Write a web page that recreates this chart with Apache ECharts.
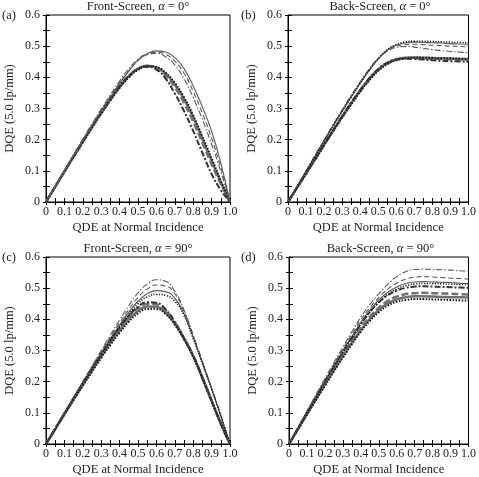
<!DOCTYPE html>
<html>
<head>
<meta charset="utf-8">
<script src="https://cdn.jsdelivr.net/npm/echarts@6/dist/echarts.min.js"></script>
<style>html,body{margin:0;padding:0;background:#fff;}#c{width:479px;height:477px;}</style>
</head>
<body>
<div id="c"></div>
<script>
// ---- data ----
const qde = [0,0.05,0.1,0.15,0.2,0.25,0.3,0.35,0.4,0.45,0.5,0.55,0.6,0.65,0.7,0.75,0.8,0.85,0.9,0.95,1.0];
const xTicks = ['0','0.1','0.2','0.3','0.4','0.5','0.6','0.7','0.8','0.9','1.0'];
const yTicks = ['0','0.1','0.2','0.3','0.4','0.5','0.6'];
const panelTitles = ['Front-Screen, ', 'Back-Screen, ', 'Front-Screen, ', 'Back-Screen, '];
const panelAngles = ['0°', '0°', '90°', '90°'];
const panelTags = ['(a)', '(b)', '(c)', '(d)'];

// (a) Front-Screen, alpha = 0
const a_thinSolid    = [0,.05,.1,.149,.198,.246,.292,.337,.38,.42,.455,.476,.485,.481,.463,.428,.372,.305,.227,.125,0];
const a_thinDash     = [0,.05,.1,.15,.199,.247,.294,.339,.382,.421,.454,.473,.48,.474,.452,.413,.355,.285,.205,.11,0];
const a_thinDashDot  = [0,.051,.102,.152,.202,.251,.298,.344,.388,.427,.458,.474,.477,.466,.44,.395,.335,.265,.185,.098,0];
const a_thickSolid   = [0,.049,.098,.146,.194,.241,.286,.329,.37,.404,.428,.437,.432,.412,.377,.33,.272,.202,.132,.064,0];
const a_thickDash    = [0,.049,.098,.146,.193,.24,.285,.328,.368,.402,.426,.436,.429,.406,.368,.318,.258,.19,.122,.058,0];
const a_thickDashDot = [0,.05,.099,.148,.196,.243,.289,.332,.372,.405,.427,.434,.425,.396,.348,.292,.228,.158,.09,.038,0];
const a_thickDot     = [0,.048,.096,.144,.191,.238,.283,.326,.366,.4,.424,.436,.433,.415,.382,.336,.278,.21,.14,.068,0];

// (b) Back-Screen, alpha = 0
const b_thinDot      = [0,.049,.098,.147,.196,.244,.291,.337,.381,.423,.46,.489,.505,.513,.516,.516,.515,.514,.513,.512,.511];
const b_thinSolid    = [0,.049,.098,.147,.196,.244,.291,.337,.381,.422,.458,.487,.503,.511,.513,.512,.511,.51,.508,.507,.506];
const b_thinDash     = [0,.05,.099,.148,.197,.246,.293,.339,.383,.424,.459,.485,.499,.505,.506,.505,.503,.502,.5,.499,.498];
const b_thinDashDot  = [0,.05,.1,.15,.199,.248,.296,.342,.386,.427,.461,.484,.496,.499,.497,.493,.489,.486,.483,.481,.479];
const b_thickSolid   = [0,.046,.092,.138,.184,.229,.274,.317,.358,.395,.425,.446,.458,.463,.464,.463,.462,.461,.46,.459,.458];
const b_thickDash    = [0,.046,.092,.137,.183,.228,.272,.315,.356,.393,.423,.444,.456,.461,.462,.461,.46,.459,.458,.457,.456];
const b_thickDashDot = [0,.047,.093,.139,.185,.231,.276,.319,.36,.397,.427,.447,.457,.46,.459,.457,.455,.453,.452,.451,.45];
const b_thickDot     = [0,.045,.091,.136,.182,.227,.271,.313,.354,.39,.421,.442,.455,.461,.463,.463,.462,.461,.461,.46,.46];

// (c) Front-Screen, alpha = 90
const c_thinDashDot  = [0,.05,.1,.15,.2,.25,.3,.35,.398,.444,.485,.513,.527,.522,.49,.43,.35,.265,.18,.092,0];
const c_thinDash     = [0,.05,.1,.15,.199,.248,.296,.343,.389,.432,.47,.497,.51,.507,.482,.425,.345,.262,.178,.09,0];
const c_thinSolid    = [0,.05,.099,.148,.197,.245,.292,.338,.382,.423,.458,.482,.492,.489,.468,.418,.342,.26,.177,.09,0];
const c_thinDot      = [0,.049,.098,.147,.195,.242,.288,.333,.376,.416,.45,.472,.48,.477,.458,.412,.338,.258,.176,.09,0];
const c_thickDashDot = [0,.049,.098,.147,.195,.242,.288,.332,.374,.411,.44,.455,.453,.432,.392,.34,.283,.214,.14,.066,0];
const c_thickDash    = [0,.049,.098,.146,.194,.241,.287,.331,.372,.409,.436,.449,.448,.429,.39,.34,.284,.214,.14,.066,0];
const c_thickSolid   = [0,.048,.096,.143,.19,.236,.281,.324,.364,.4,.427,.441,.44,.422,.386,.338,.282,.212,.138,.066,0];
const c_thickDot     = [0,.047,.094,.141,.187,.232,.276,.318,.357,.392,.419,.433,.433,.417,.383,.336,.28,.21,.137,.065,0];

// (d) Back-Screen, alpha = 90
const d_thinDashDot  = [0,.053,.106,.158,.21,.261,.311,.36,.407,.447,.482,.512,.537,.553,.56,.561,.56,.559,.558,.556,.555];
const d_thinDash     = [0,.052,.104,.155,.206,.256,.305,.352,.398,.437,.47,.497,.516,.529,.535,.537,.536,.534,.532,.531,.529];
const d_thinSolid    = [0,.051,.102,.152,.202,.251,.299,.345,.39,.43,.462,.487,.504,.515,.52,.521,.52,.519,.518,.516,.515];
const d_thinDot      = [0,.05,.1,.15,.199,.248,.295,.34,.384,.423,.455,.48,.497,.508,.513,.515,.515,.514,.513,.512,.512];
const d_thickDashDot = [0,.051,.101,.151,.2,.249,.296,.341,.385,.423,.454,.477,.492,.501,.505,.506,.505,.504,.503,.502,.501];
const d_thickDash    = [0,.049,.098,.146,.194,.241,.287,.331,.372,.408,.437,.459,.473,.481,.484,.485,.484,.483,.482,.481,.48];
const d_thickSolid   = [0,.048,.096,.144,.191,.237,.282,.325,.366,.401,.43,.451,.464,.471,.474,.474,.473,.472,.471,.471,.47];
const d_thickDot     = [0,.047,.094,.141,.187,.233,.277,.32,.36,.395,.423,.444,.456,.462,.465,.465,.464,.463,.462,.461,.46];

const panels = [
  [['thickSolid',a_thickSolid],['thickDash',a_thickDash],['thickDot',a_thickDot],['thickDashDot',a_thickDashDot],
   ['thinSolid',a_thinSolid],['thinDash',a_thinDash],['thinDashDot',a_thinDashDot]],
  [['thickSolid',b_thickSolid],['thickDash',b_thickDash],['thickDot',b_thickDot],['thickDashDot',b_thickDashDot],
   ['thinSolid',b_thinSolid],['thinDash',b_thinDash],['thinDashDot',b_thinDashDot],['thinDot',b_thinDot]],
  [['thickSolid',c_thickSolid],['thickDash',c_thickDash],['thickDot',c_thickDot],['thickDashDot',c_thickDashDot],
   ['thinSolid',c_thinSolid],['thinDash',c_thinDash],['thinDashDot',c_thinDashDot],['thinDot',c_thinDot]],
  [['thickSolid',d_thickSolid],['thickDash',d_thickDash],['thickDot',d_thickDot],['thickDashDot',d_thickDashDot],
   ['thinSolid',d_thinSolid],['thinDash',d_thinDash],['thinDashDot',d_thinDashDot],['thinDot',d_thinDot]]
];

// ---- styles ----
const styles = {
  thinSolid:    {color:'#5a5a5a', width:1.1, type:'solid'},
  thinDash:     {color:'#5a5a5a', width:1.1, type:[5,3]},
  thinDashDot:  {color:'#5a5a5a', width:1.1, type:[6,2,1.5,2]},
  thinDot:      {color:'#1a1a1a', width:1.5, type:[1.2,1.5]},
  thickSolid:   {color:'#707070', width:2.5, type:'solid'},
  thickDash:    {color:'#707070', width:2.5, type:[7,3]},
  thickDashDot: {color:'#333', width:2,   type:[6,2,2,2]},
  thickDot:     {color:'#1a1a1a', width:2,   type:[1.5,1.5]}
};
const FONT = 'Liberation Serif, Times New Roman, serif';
const grids = [
  {left:46, top:15, width:184, height:187},
  {left:288, top:15, width:184, height:187},
  {left:46, top:257, width:184, height:187},
  {left:289, top:257, width:183, height:187}
];

const option = {
  animation:false,
  backgroundColor:'#fff',
  grid: grids.map(g => Object.assign({show:true, borderColor:'#000', borderWidth:1, backgroundColor:'transparent'}, g)),
  xAxis: [], yAxis: [], series: [], graphic: []
};

grids.forEach((g, gi) => {
  const xMain = {
    type:'value', gridIndex:gi, min:0, max:1, interval:0.1,
    name:'QDE at Normal Incidence', nameLocation:'middle', nameGap:19,
    nameTextStyle:{fontFamily:FONT, fontSize:12.5, color:'#222'},
    axisLine:{show:true, lineStyle:{color:'#000', width:1}},
    axisTick:{show:true, inside:true, length:4, lineStyle:{color:'#000'}},
    minorTick:{show:true, splitNumber:2, length:4, lineStyle:{color:'#000'}},
    splitLine:{show:false},
    axisLabel:{fontFamily:FONT, fontSize:12, color:'#222', margin:4,
      formatter: v => xTicks[Math.round(v*10)]}
  };
  const xOver = {
    type:'value', gridIndex:gi, min:0, max:1, interval:0.1, position:'bottom',
    axisLine:{show:false},
    axisTick:{show:true, inside:false, length:3, lineStyle:{color:'#000'}},
    minorTick:{show:true, splitNumber:2, length:3, lineStyle:{color:'#000'}},
    splitLine:{show:false}, axisLabel:{show:false}
  };
  const yMain = {
    type:'value', gridIndex:gi, min:0, max:0.6, interval:0.1,
    name:'DQE (5.0 lp/mm)', nameLocation:'middle', nameGap:30,
    nameTextStyle:{fontFamily:FONT, fontSize:12.5, color:'#222'},
    axisLine:{show:true, lineStyle:{color:'#000', width:1}},
    axisTick:{show:true, inside:true, length:4, lineStyle:{color:'#000'}},
    minorTick:{show:true, splitNumber:2, length:4, lineStyle:{color:'#000'}},
    splitLine:{show:false},
    axisLabel:{fontFamily:FONT, fontSize:12, color:'#222', margin:6,
      formatter: v => yTicks[Math.round(v*10)]}
  };
  const yOver = {
    type:'value', gridIndex:gi, min:0, max:0.6, interval:0.1, position:'left',
    axisLine:{show:false},
    axisTick:{show:true, inside:false, length:3, lineStyle:{color:'#000'}},
    minorTick:{show:true, splitNumber:2, length:3, lineStyle:{color:'#000'}},
    splitLine:{show:false}, axisLabel:{show:false}
  };
  option.xAxis.push(xMain, xOver);
  option.yAxis.push(yMain, yOver);

  panels[gi].forEach(([key, ys], si) => {
    const st = styles[key];
    option.series.push({
      type:'line', xAxisIndex:gi*2, yAxisIndex:gi*2,
      data: qde.map((x, i) => [x, ys[i]]),
      showSymbol:false, symbol:'none', smooth:0.5,
      lineStyle:{color:st.color, width:st.width, type:st.type, cap:'butt'},
      z: 2 + si
    });
  });

  option.graphic.push({
    type:'text', x: g.left + g.width/2, y: g.top - 15, z:100,
    style:{
      text: '{n|' + panelTitles[gi] + '}{i|α}{n| = ' + panelAngles[gi] + '}',
      align:'center', verticalAlign:'top',
      rich:{
        n:{fontFamily:FONT, fontSize:12.5, fill:'#222'},
        i:{fontFamily:FONT, fontSize:12.5, fontStyle:'italic', fill:'#222'}
      }
    }
  });
  option.graphic.push({
    type:'text', x: gi % 2 === 0 ? 2 : 241, y: g.top - 6, z:100,
    style:{text: panelTags[gi], fontFamily:FONT, fontSize:12.5, fill:'#222', align:'left', verticalAlign:'top'}
  });
});

const chart = echarts.init(document.getElementById('c'), null, {renderer:'canvas'});
chart.setOption(option);
</script>
</body>
</html>
